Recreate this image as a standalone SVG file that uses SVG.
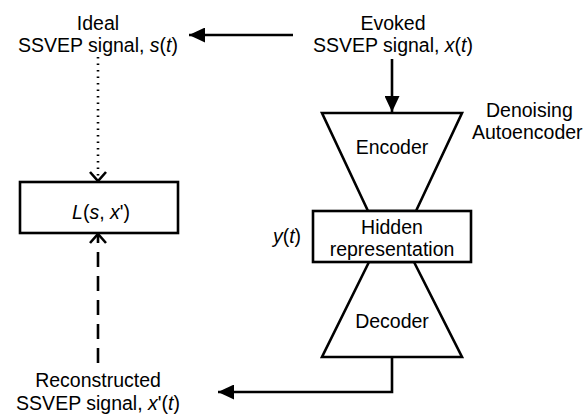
<svg xmlns="http://www.w3.org/2000/svg" width="585" height="414" viewBox="0 0 585 414">
<style>
text{font-family:"Liberation Sans",Arial,sans-serif;font-size:19.5px;fill:#000;text-anchor:middle}
.i{font-style:italic}
.shape{fill:#fff;stroke:#000;stroke-width:2.6}
.ln{fill:none;stroke:#000;stroke-width:2.6}
</style>
<defs>
<marker id="fa" markerWidth="17" markerHeight="15" refX="16" refY="7.5" orient="auto" markerUnits="userSpaceOnUse">
<path d="M0,0 L16,7.5 L0,15 Z" fill="#000"/>
</marker>
<marker id="oa" markerWidth="12" markerHeight="18" refX="10" refY="9" orient="auto" markerUnits="userSpaceOnUse">
<path d="M1,1 L10,9 L1,17" fill="none" stroke="#000" stroke-width="2.6"/>
</marker>
</defs>
<g id="connectors">
<line class="ln" x1="293" y1="35" x2="189" y2="35" marker-end="url(#fa)"/>
<line class="ln" x1="392" y1="59" x2="392" y2="112" marker-end="url(#fa)"/>
<polyline class="ln" points="392,357 392,392 218,392" marker-end="url(#fa)"/>
<line class="ln" x1="98" y1="57" x2="98" y2="181" stroke-dasharray="1.5,5" marker-end="url(#oa)"/>
<line class="ln" x1="98" y1="363" x2="98" y2="234" stroke-dasharray="15,9" marker-end="url(#oa)"/>
</g>
<g id="ideal">
<text x="98" y="30">Ideal</text>
<text x="98" y="52">SSVEP signal, <tspan class="i">s</tspan>(<tspan class="i">t</tspan>)</text>
</g>
<g id="evoked">
<text x="393" y="30">Evoked</text>
<text x="393" y="52">SSVEP signal, <tspan class="i">x</tspan>(<tspan class="i">t</tspan>)</text>
</g>
<g id="label-dae">
<text x="486" y="117" style="text-anchor:start">Denoising</text>
<text x="472" y="139" style="text-anchor:start">Autoencoder</text>
</g>
<g id="encoder">
<polygon class="shape" points="322,113 462,113 416,211 368,211"/>
<text x="392" y="154">Encoder</text>
</g>
<g id="decoder">
<polygon class="shape" points="369,262 414,262 462,357 322,357"/>
<text x="392" y="328">Decoder</text>
</g>
<g id="hidden">
<rect class="shape" x="313" y="211" width="158" height="51"/>
<text x="392" y="234">Hidden</text>
<text x="392" y="256">representation</text>
</g>
<g id="ylabel">
<text x="287" y="243"><tspan class="i">y</tspan>(<tspan class="i">t</tspan>)</text>
</g>
<g id="loss">
<rect class="shape" x="20" y="182" width="158" height="51"/>
<text x="101" y="219"><tspan class="i">L</tspan>(<tspan class="i">s</tspan>, <tspan class="i">x</tspan>')</text>
</g>
<g id="recon">
<text x="98" y="387">Reconstructed</text>
<text x="98" y="410">SSVEP signal, <tspan class="i">x</tspan>'(<tspan class="i">t</tspan>)</text>
</g>
</svg>
